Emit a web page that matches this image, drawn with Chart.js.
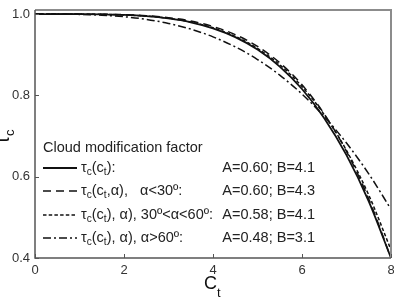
<!DOCTYPE html>
<html>
<head>
<meta charset="utf-8">
<script src="https://cdn.jsdelivr.net/npm/chart.js@4/dist/chart.umd.min.js"></script>
<style>
  html, body { margin: 0; padding: 0; background: #fff; }
  canvas { display: block; }
</style>
</head>
<body>
<canvas id="c" width="394" height="300"></canvas>
<script>
// ---- data ----
const ct = [0, 0.5, 1, 1.5, 2, 2.5, 3, 3.5, 4, 4.5, 5, 5.5, 6, 6.5, 7, 7.5, 8];
const tauAll   = [1.0, 1.0, 0.9999, 0.9994, 0.998, 0.9949, 0.9892, 0.9798, 0.965, 0.9433, 0.9126, 0.8709, 0.8156, 0.7439, 0.6529, 0.5394, 0.40];
const tauLow   = [1.0, 1.0, 0.9999, 0.9996, 0.9985, 0.996, 0.9912, 0.9829, 0.9695, 0.9495, 0.9205, 0.8802, 0.8259, 0.7542, 0.6621, 0.5453, 0.40];
const tauMid   = [1.0, 1.0, 0.9999, 0.9994, 0.998, 0.9951, 0.9896, 0.9804, 0.9662, 0.9452, 0.9156, 0.8752, 0.8217, 0.7524, 0.6645, 0.5548, 0.42];
const tauHigh  = [1.0, 0.9999, 0.9992, 0.9973, 0.9935, 0.987, 0.977, 0.963, 0.944, 0.9194, 0.8882, 0.8498, 0.8032, 0.7478, 0.6827, 0.607, 0.52];
const xTicks = [0, 2, 4, 6, 8];
const yTicks = [0.4, 0.6, 0.8, 1.0];
const legendTitle = "Cloud modification factor";
const legendLabels = [
  [["τ",0],["c",1],["(c",0],["t",1],["):",0]],
  [["τ",0],["c",1],["(c",0],["t",1],[",α),   α<30º:",0]],
  [["τ",0],["c",1],["(c",0],["t",1],["), α), 30º<α<60º:",0]],
  [["τ",0],["c",1],["(c",0],["t",1],["), α), α>60º:",0]]
];
const legendParams = ["A=0.60; B=4.1", "A=0.60; B=4.3", "A=0.58; B=4.1", "A=0.48; B=3.1"];
const dashes = [[], [8, 5], [3.5, 2.2], [8, 3, 2, 3]];

const FONT = "'Liberation Sans', Arial, sans-serif";
const series = [tauAll, tauLow, tauMid, tauHigh];

const datasets = series.map((s, i) => ({
  data: ct.map((x, j) => ({ x: x, y: s[j] })),
  borderColor: '#111',
  borderWidth: i === 0 ? 1.8 : 1.5,
  borderDash: dashes[i],
  pointRadius: 0,
  fill: false,
  cubicInterpolationMode: 'monotone'
}));

function drawRich(ctx, segs, x, y, size) {
  let cx = x;
  segs.forEach(([t, sub]) => {
    ctx.font = (sub ? size * 0.7 : size) + "px " + FONT;
    ctx.fillText(t, cx, y + (sub ? size * 0.3 : 0));
    cx += ctx.measureText(t).width;
  });
}

const decor = {
  id: 'decor',
  afterDraw(chart) {
    const ctx = chart.ctx;
    const a = chart.chartArea;
    const xs = chart.scales.x, ys = chart.scales.y;
    ctx.save();
    // frame
    ctx.strokeStyle = '#8c8c8c';
    ctx.lineWidth = 2;
    ctx.beginPath();
    ctx.moveTo(a.left, a.top); ctx.lineTo(a.right, a.top); ctx.lineTo(a.right, a.bottom);
    ctx.stroke();
    ctx.strokeStyle = '#555';
    ctx.lineWidth = 1.5;
    ctx.beginPath();
    ctx.moveTo(a.left, a.top); ctx.lineTo(a.left, a.bottom); ctx.lineTo(a.right, a.bottom);
    ctx.stroke();
    // inward ticks
    ctx.lineWidth = 1;
    xTicks.forEach(v => {
      const px = Math.round(xs.getPixelForValue(v)) + 0.5;
      ctx.beginPath(); ctx.moveTo(px, a.bottom); ctx.lineTo(px, a.bottom - 4); ctx.stroke();
    });
    yTicks.forEach(v => {
      const py = Math.round(ys.getPixelForValue(v)) + 0.5;
      ctx.beginPath(); ctx.moveTo(a.left, py); ctx.lineTo(a.left + 4, py); ctx.stroke();
    });
    // legend
    ctx.fillStyle = '#222';
    ctx.textBaseline = 'middle';
    ctx.textAlign = 'left';
    ctx.font = "14.5px " + FONT;
    ctx.fillText(legendTitle, 43, 148);
    const rows = [168, 191, 215, 238];
    rows.forEach((ry, i) => {
      ctx.strokeStyle = '#111';
      ctx.lineWidth = datasets[i].borderWidth;
      ctx.setLineDash(dashes[i]);
      ctx.beginPath(); ctx.moveTo(43, ry); ctx.lineTo(77, ry); ctx.stroke();
      ctx.setLineDash([]);
      ctx.textAlign = 'left';
      drawRich(ctx, legendLabels[i], 81, ry, 14.5);
      ctx.textAlign = 'right';
      ctx.font = "14.5px " + FONT;
      ctx.fillText(legendParams[i], 315, ry);
    });
    // axis titles
    ctx.textAlign = 'left';
    ctx.textBaseline = 'alphabetic';
    ctx.fillStyle = '#111';
    ctx.font = "18px " + FONT;
    ctx.fillText("C", 204, 289);
    const cw = ctx.measureText("C").width;
    ctx.font = "13px " + FONT;
    ctx.fillText("t", 204 + cw, 297);
    ctx.save();
    ctx.translate(9, 144);
    ctx.rotate(-Math.PI / 2);
    ctx.font = "20px " + FONT;
    ctx.fillText("τ", 0, 0);
    const tw = ctx.measureText("τ").width;
    ctx.font = "13px " + FONT;
    ctx.fillText("c", tw, 5);
    ctx.restore();
    ctx.restore();
  }
};

new Chart(document.getElementById('c'), {
  type: 'line',
  data: { datasets: datasets },
  options: {
    responsive: false,
    animation: false,
    devicePixelRatio: 1,
    layout: { padding: { left: 0, right: 3, top: 10, bottom: 0 } },
    plugins: { legend: { display: false }, tooltip: { enabled: false } },
    scales: {
      x: {
        type: 'linear', min: 0, max: 8,
        grid: { display: false, drawTicks: false },
        border: { display: false },
        ticks: { font: { size: 13, family: FONT }, color: '#333', padding: 5, maxRotation: 0 },
        afterBuildTicks: s => { s.ticks = xTicks.map(v => ({ value: v })); },
        afterFit: s => { s.height = 42; s.paddingLeft = 0; s.paddingRight = 0; }
      },
      y: {
        type: 'linear', min: 0.4, max: 1.01,
        grid: { display: false, drawTicks: false },
        border: { display: false },
        ticks: { font: { size: 13, family: FONT }, color: '#333', padding: 5,
                 callback: v => Number(v).toFixed(1) },
        afterBuildTicks: s => { s.ticks = yTicks.map(v => ({ value: v })); },
        afterFit: s => { s.width = 35; s.paddingTop = 0; s.paddingBottom = 0; }
      }
    }
  },
  plugins: [decor]
});
</script>
</body>
</html>
